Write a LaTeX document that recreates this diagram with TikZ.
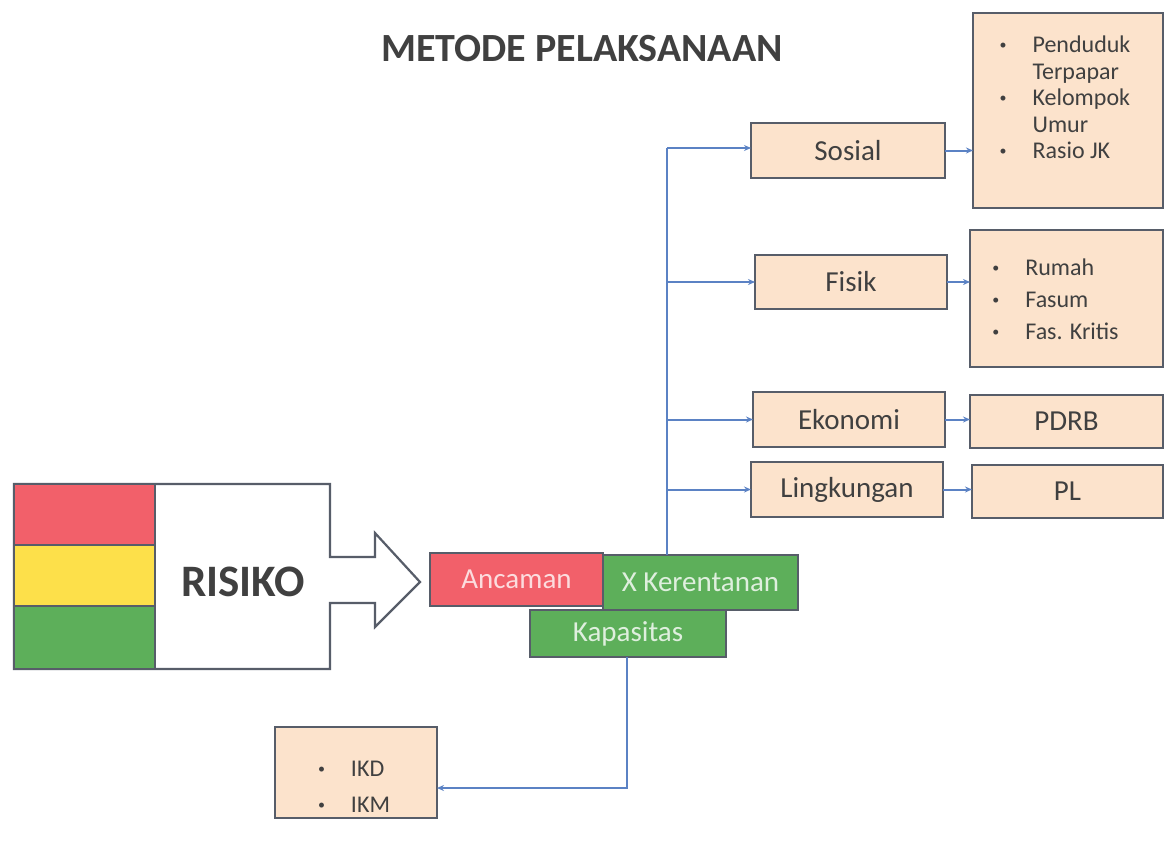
\documentclass[tikz,border=0pt]{standalone}
\usepackage{fontspec}
\setmainfont{Carlito}
\usetikzlibrary{arrows.meta}
\definecolor{peach}{HTML}{FCE3CC}
\definecolor{edge}{HTML}{575D69}
\definecolor{conn}{HTML}{5B82C4}
\definecolor{rred}{HTML}{F2606A}
\definecolor{ryel}{HTML}{FDE04A}
\definecolor{rgrn}{HTML}{5DAF5A}
\definecolor{txt}{HTML}{404040}
\tikzset{
  box/.style={draw=edge, line width=2.2pt, fill=peach, inner sep=0pt, outer sep=0pt,
    text=txt, font=\fontsize{29}{32}\selectfont},
  cbox/.style={draw=edge, line width=2.2pt, inner sep=0pt, outer sep=0pt,
    font=\fontsize{29}{32}\selectfont},
  link/.style={draw=conn, line width=2pt, -{Stealth[length=7pt,width=6pt]}},
  trunk/.style={draw=conn, line width=2pt}
}
\newcommand{\bul}{\raisebox{0.15em}{\fontsize{14}{14}\selectfont\textbullet}}
\begin{document}
\begin{tikzpicture}[x=1pt,y=-1pt]
\useasboundingbox[fill=white] (0,0) rectangle (1166,846);
% title
\node[font=\fontsize{40}{44}\selectfont\bfseries, text=txt] (title) at (582,49) {METODE PELAKSANAAN};
% RISIKO arrow
\draw[edge, line width=2.2pt, fill=white] (14,484) -- (330,484) -- (330,557) -- (375,557) -- (375,533)
  -- (420,582) -- (375,627) -- (375,603) -- (330,603) -- (330,669) -- (14,669) -- cycle;
\filldraw[draw=edge, line width=2.2pt, fill=rred] (14,484) rectangle (155,545);
\filldraw[draw=edge, line width=2.2pt, fill=ryel] (14,545) rectangle (155,606);
\filldraw[draw=edge, line width=2.2pt, fill=rgrn] (14,606) rectangle (155,669);
\node[font=\fontsize{45}{48}\selectfont\bfseries, text=txt] (risiko) at (243,582) {RISIKO};
% formula boxes
\node[cbox, fill=rred, text=white!78!rred, minimum width=173pt, minimum height=53pt] (ancaman) at (516.5,579.5) {Ancaman};
\node[cbox, fill=rgrn, text=white!80!rgrn, minimum width=195pt, minimum height=55pt] (kerent) at (700.5,582.5) {X Kerentanan};
\node[cbox, fill=rgrn, text=white!80!rgrn, minimum width=196pt, minimum height=47pt] (kapas) at (628,633.5) {Kapasitas};
% vulnerability components
\node[box, minimum width=194pt, minimum height=55pt] (sosial) at (848,150.5) {Sosial};
\node[box, minimum width=192pt, minimum height=54pt] (fisik) at (851,282) {Fisik};
\node[box, minimum width=192pt, minimum height=55pt] (ekonomi) at (849,419.5) {Ekonomi};
\node[box, minimum width=192pt, minimum height=55pt] (lingk) at (847,489.5) {Lingkungan};
% detail boxes
\node[box, minimum width=190pt, minimum height=195pt,
  label={[text=txt, font=\fontsize{24}{26.5}\selectfont, yshift=10pt, xshift=-3pt]center:{\begin{tabular}{@{}l@{\hspace{26pt}}l@{}}\bul & Penduduk\\ & Terpapar\\ \bul & Kelompok\\ & Umur\\ \bul & Rasio JK\end{tabular}}}] (sosD) at (1068,110.5) {};
\node[box, minimum width=193pt, minimum height=137pt,
  label={[text=txt, font=\fontsize{24}{32}\selectfont, yshift=-3pt, xshift=-11pt]center:{\begin{tabular}{@{}l@{\hspace{26pt}}l@{}}\bul & Rumah\\ \bul & Fasum\\ \bul & Fas. Kritis\end{tabular}}}] (fisD) at (1066.5,298.5) {};
\node[box, minimum width=193pt, minimum height=53pt] (pdrb) at (1066.5,421.5) {PDRB};
\node[box, minimum width=191pt, minimum height=53pt] (pl) at (1067.5,491.5) {PL};
\node[box, minimum width=162pt, minimum height=91pt,
  label={[text=txt, font=\fontsize{24}{36}\selectfont, yshift=-15pt, xshift=-2pt]center:{\begin{tabular}{@{}l@{\hspace{26pt}}l@{}}\bul & IKD\\ \bul & IKM\end{tabular}}}] (ikd) at (356,772.5) {};
% connectors
\coordinate (t) at (667,148);
\draw[trunk] (kerent.north -| t) -- (t);
\draw[link] (t) -- (sosial.west |- t);
\draw[link] (t |- fisik.west) -- (fisik.west);
\draw[link] (t |- ekonomi.west) -- (ekonomi.west);
\draw[link] (t |- lingk.west) -- (lingk.west);
\draw[link] (sosial.east) -- (sosial.east -| sosD.west);
\draw[link] (fisik.east) -- (fisik.east -| fisD.west);
\draw[link] (ekonomi.east) -- (ekonomi.east -| pdrb.west);
\draw[link] (lingk.east) -- (lingk.east -| pl.west);
\coordinate (k) at (627,788);
\draw[link] (kapas.south -| k) -- (k) -- (ikd.east |- k);
\end{tikzpicture}
\end{document}
